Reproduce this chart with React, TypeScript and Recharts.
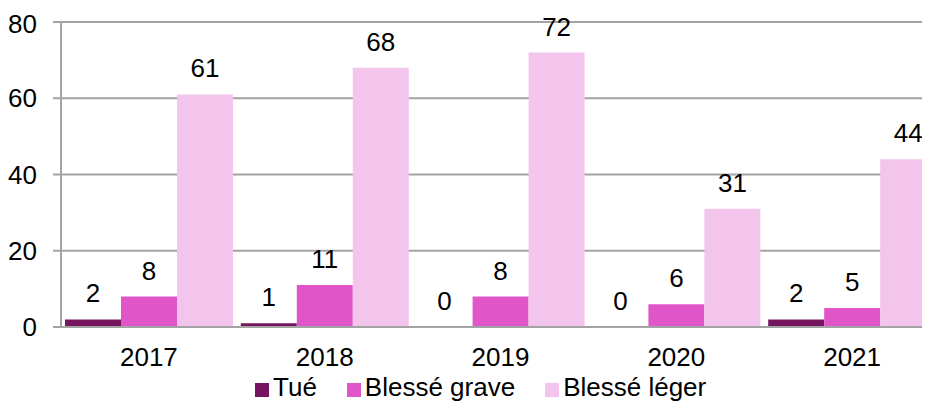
import React from 'react';
import { BarChart, Bar, XAxis, YAxis, CartesianGrid, LabelList } from 'recharts';

const years = ['2017', '2018', '2019', '2020', '2021'];
const tue = [2, 1, 0, 0, 2];
const blesseGrave = [8, 11, 8, 6, 5];
const blesseLeger = [61, 68, 72, 31, 44];
const yTicks = [0, 20, 40, 60, 80];
const boundaryTicks = [0, 1, 2, 3, 4, 5];

const series = [
    { key: 'tue', name: 'Tué', color: '#75155F' },
    { key: 'grave', name: 'Blessé grave', color: '#E055C8' },
    { key: 'leger', name: 'Blessé léger', color: '#F3C5EC' },
];

const data = years.map((year, i) => ({
    year,
    tue: tue[i],
    grave: blesseGrave[i],
    leger: blesseLeger[i],
}));

const font = '"Liberation Sans", Arial, sans-serif';
const gridColor = '#A3A3A3';
const tickFont = { fontSize: 26, fill: '#000', fontFamily: font };

const App: React.FC = () => {
    return (
        <div style={{ position: 'relative', width: 922, height: 393, overflow: 'hidden', fontFamily: font }}>
            <BarChart
                width={932}
                height={393}
                data={data}
                margin={{ top: 14, right: 0, bottom: 34, left: 0 }}
                barCategoryGap={4}
                barGap={0}
            >
                <CartesianGrid vertical={false} stroke={gridColor} strokeWidth={2} />
                <XAxis
                    xAxisId="edges"
                    type="number"
                    domain={[0, 5]}
                    ticks={boundaryTicks}
                    height={0}
                    axisLine={false}
                    tickLine={{ stroke: gridColor, strokeWidth: 2 }}
                    tickSize={7}
                    tickFormatter={() => ''}
                    allowDataOverflow
                />
                <XAxis
                    dataKey="year"
                    height={40}
                    axisLine={{ stroke: gridColor, strokeWidth: 2 }}
                    tickLine={false}
                    tickSize={0}
                    tickMargin={21}
                    tick={tickFont}
                />
                <YAxis
                    width={53}
                    domain={[0, 80]}
                    ticks={yTicks}
                    axisLine={{ stroke: gridColor, strokeWidth: 2 }}
                    tickLine={{ stroke: gridColor, strokeWidth: 2 }}
                    tickSize={8}
                    tickMargin={16}
                    tick={tickFont}
                />
                {series.map((s) => (
                    <Bar
                        key={s.key}
                        dataKey={s.key}
                        name={s.name}
                        fill={s.color}
                        minPointSize={0.01}
                        isAnimationActive={false}
                    >
                        <LabelList dataKey={s.key} position="top" offset={17} style={tickFont} />
                    </Bar>
                ))}
            </BarChart>
            <div
                style={{
                    position: 'absolute',
                    left: 247,
                    top: 368,
                    display: 'flex',
                    alignItems: 'center',
                    lineHeight: '22px',
                    height: 22,
                    fontSize: 26,
                    color: '#000',
                    whiteSpace: 'nowrap',
                }}
            >
                {series.map((s) => (
                    <div key={s.key} style={{ display: 'flex', alignItems: 'center', marginRight: 30 }}>
                        <span
                            style={{
                                display: 'inline-block',
                                width: 14,
                                height: 14,
                                background: s.color,
                                marginRight: 4,
                                position: 'relative',
                                top: 3,
                            }}
                        />
                        <span>{s.name}</span>
                    </div>
                ))}
            </div>
        </div>
    );
};

export default App;
